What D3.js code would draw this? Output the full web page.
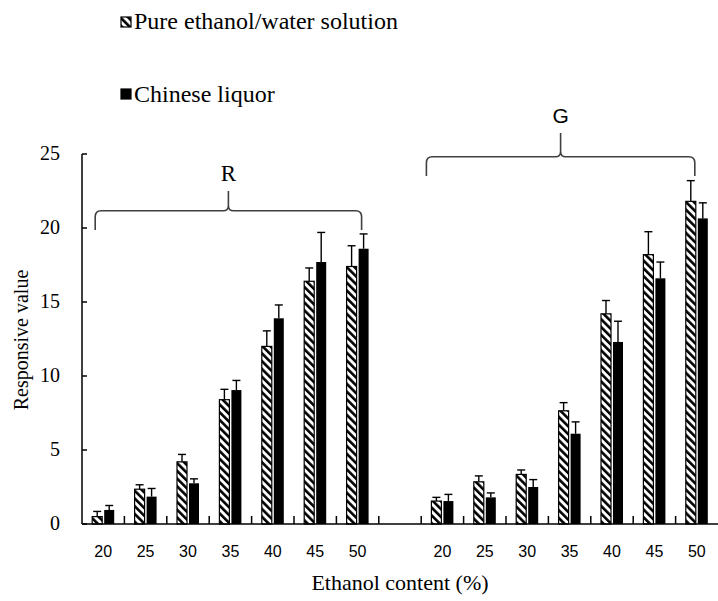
<!DOCTYPE html>
<html>
<head>
<meta charset="utf-8">
<script src="https://cdn.jsdelivr.net/npm/d3@7"></script>
<style>
  html, body { margin: 0; padding: 0; background: #fff; }
  svg { display: block; }
  .serif { font-family: "Liberation Serif", Tinos, "Times New Roman", Times, "DejaVu Serif", serif; }
  .sans { font-family: "Liberation Sans", Arimo, Arial, sans-serif; }
</style>
</head>
<body>
<svg id="chart" width="718" height="601"></svg>
<script>
// ---- data ----
const categories = ["20", "25", "30", "35", "40", "45", "50"];
const groups = ["R", "G"];
const seriesNames = ["Pure ethanol/water solution", "Chinese liquor"];
const pureR      = [0.5, 2.35, 4.2, 8.4, 12.0, 16.4, 17.4];
const pureRErr   = [0.35, 0.3, 0.5, 0.7, 1.05, 0.9, 1.4];
const liquorR    = [0.95, 1.85, 2.75, 9.05, 13.9, 17.7, 18.6];
const liquorRErr = [0.3, 0.55, 0.3, 0.65, 0.9, 2.0, 1.0];
const pureG      = [1.55, 2.85, 3.35, 7.65, 14.2, 18.2, 21.8];
const pureGErr   = [0.25, 0.4, 0.3, 0.55, 0.9, 1.55, 1.4];
const liquorG    = [1.55, 1.8, 2.5, 6.1, 12.3, 16.6, 20.65];
const liquorGErr = [0.45, 0.3, 0.5, 0.8, 1.4, 1.1, 1.05];
const yTicks = [0, 5, 10, 15, 20, 25];
const xTitle = "Ethanol content (%)";
const yTitle = "Responsive value";

(function () {
// ---- layout ----
const svg = d3.select("#chart");
const pLeft = 82, pRight = 718, pTop = 154, pBottom = 524;

// slots: R categories, one empty gap slot, G categories
const slots = [];
categories.forEach(c => slots.push("R" + c));
slots.push("gap");
categories.forEach(c => slots.push("G" + c));

const x = d3.scaleBand().domain(slots).range([pLeft, pRight]).padding(0);
const y = d3.scaleLinear().domain([0, 25]).range([pBottom, pTop]);

// hatch pattern
const defs = svg.append("defs");
const pat = defs.append("pattern")
  .attr("id", "hatch")
  .attr("patternUnits", "userSpaceOnUse")
  .attr("width", 5.5).attr("height", 5.5)
  .attr("patternTransform", "rotate(-45)");
pat.append("rect").attr("width", 5.5).attr("height", 5.5).attr("fill", "#fff");
pat.append("rect").attr("width", 2.6).attr("height", 5.5).attr("fill", "#000");

// build bar records
const bars = [];
const addSeries = (grp, vals, errs, s) => {
  vals.forEach((v, i) => bars.push({ slot: grp + categories[i], v, e: errs[i], s }));
};
addSeries("R", pureR, pureRErr, 0);
addSeries("R", liquorR, liquorRErr, 1);
addSeries("G", pureG, pureGErr, 0);
addSeries("G", liquorG, liquorGErr, 1);

const barW = 10, gapW = 2;
const bx = d => x(d.slot) + x.bandwidth() / 2 + (d.s === 0 ? -barW - gapW / 2 : gapW / 2);

// error bars (drawn first, behind bars)
const eb = svg.append("g").attr("stroke", "#000").attr("stroke-width", 1.4);
bars.forEach(d => {
  const cx = bx(d) + barW / 2;
  eb.append("line").attr("x1", cx).attr("x2", cx).attr("y1", y(d.v)).attr("y2", y(d.v + d.e));
  eb.append("line").attr("x1", cx - 4).attr("x2", cx + 4).attr("y1", y(d.v + d.e)).attr("y2", y(d.v + d.e));
});

// bars
svg.append("g").selectAll("rect").data(bars).join("rect")
  .attr("x", d => bx(d))
  .attr("y", d => y(d.v))
  .attr("width", barW)
  .attr("height", d => y(0) - y(d.v))
  .attr("fill", d => d.s === 0 ? "url(#hatch)" : "#000")
  .attr("stroke", "#000")
  .attr("stroke-width", d => d.s === 0 ? 1.2 : 0);

// axes
const ax = svg.append("g").attr("stroke", "#000").attr("stroke-width", 1.5).attr("fill", "none");
ax.append("line").attr("x1", pLeft).attr("x2", pLeft).attr("y1", y(25)).attr("y2", pBottom);
ax.append("line").attr("x1", pLeft).attr("x2", pRight).attr("y1", pBottom).attr("y2", pBottom);
yTicks.forEach(t => {
  ax.append("line").attr("x1", pLeft).attr("x2", pLeft + 5).attr("y1", y(t)).attr("y2", y(t));
});
slots.forEach((s, i) => {
  if (i === 0) return;
  ax.append("line").attr("x1", x(s)).attr("x2", x(s)).attr("y1", pBottom).attr("y2", pBottom - 8);
});

// y tick labels
svg.append("g").selectAll("text").data(yTicks).join("text")
  .attr("class", "serif")
  .attr("x", pLeft - 22).attr("y", t => y(t) + 6)
  .attr("text-anchor", "end")
  .attr("font-size", 20)
  .text(t => t);

// x tick labels
svg.append("g").selectAll("text").data(slots.filter(s => s !== "gap")).join("text")
  .attr("class", "sans")
  .attr("x", s => x(s) + x.bandwidth() / 2).attr("y", 557)
  .attr("text-anchor", "middle")
  .attr("font-size", 16)
  .text(s => s.slice(1));

// axis titles
svg.append("text").attr("class", "serif").attr("x", 400).attr("y", 590)
  .attr("text-anchor", "middle").attr("font-size", 22)
  .text(xTitle);
svg.append("text").attr("class", "serif").attr("transform", "translate(28,340) rotate(-90)")
  .attr("text-anchor", "middle").attr("font-size", 20)
  .text(yTitle);

// braces
function brace(x0, x1, xm, yH, yEnd, yTop) {
  const r = 6, r2 = 5;
  return `M${x0},${yEnd} L${x0},${yH + r} Q${x0},${yH} ${x0 + r},${yH} L${xm - r2},${yH} Q${xm},${yH} ${xm},${yH - r2} L${xm},${yTop} ` +
         `M${xm},${yH - r2} Q${xm},${yH} ${xm + r2},${yH} L${x1 - r},${yH} Q${x1},${yH} ${x1},${yH + r} L${x1},${yEnd}`;
}
const bw = x.bandwidth();
const rX0 = x("R20") + bw / 2 - 8, rX1 = x("R50") + bw / 2 + 4;
const gX0 = x("G20") + bw / 2 - 16, gX1 = x("G50") + bw / 2 - 2;
const br = svg.append("g").attr("stroke", "#404040").attr("stroke-width", 1.6).attr("fill", "none");
br.append("path").attr("d", brace(rX0, rX1, (rX0 + rX1) / 2, 210.7, 230, 191));
br.append("path").attr("d", brace(gX0, gX1, (gX0 + gX1) / 2, 156.7, 176, 133));
svg.append("text").attr("class", "serif").attr("x", (rX0 + rX1) / 2).attr("y", 181)
  .attr("text-anchor", "middle").attr("font-size", 23)
  .text(groups[0]);
svg.append("text").attr("class", "sans").attr("x", (gX0 + gX1) / 2).attr("y", 123)
  .attr("text-anchor", "middle").attr("font-size", 21)
  .text(groups[1]);

// legend
const leg = [{ y: 17, fill: "url(#hatch)", ty: 29 }, { y: 89, fill: "#000", ty: 102 }];
leg.forEach((l, i) => {
  svg.append("rect").attr("x", 121).attr("y", l.y).attr("width", 10).attr("height", 10)
    .attr("fill", l.fill).attr("stroke", "#000").attr("stroke-width", 1.2);
  svg.append("text").attr("class", "serif").attr("x", 134).attr("y", l.ty)
    .attr("font-size", 24)
    .text(seriesNames[i]);
});
})();
</script>
</body>
</html>
